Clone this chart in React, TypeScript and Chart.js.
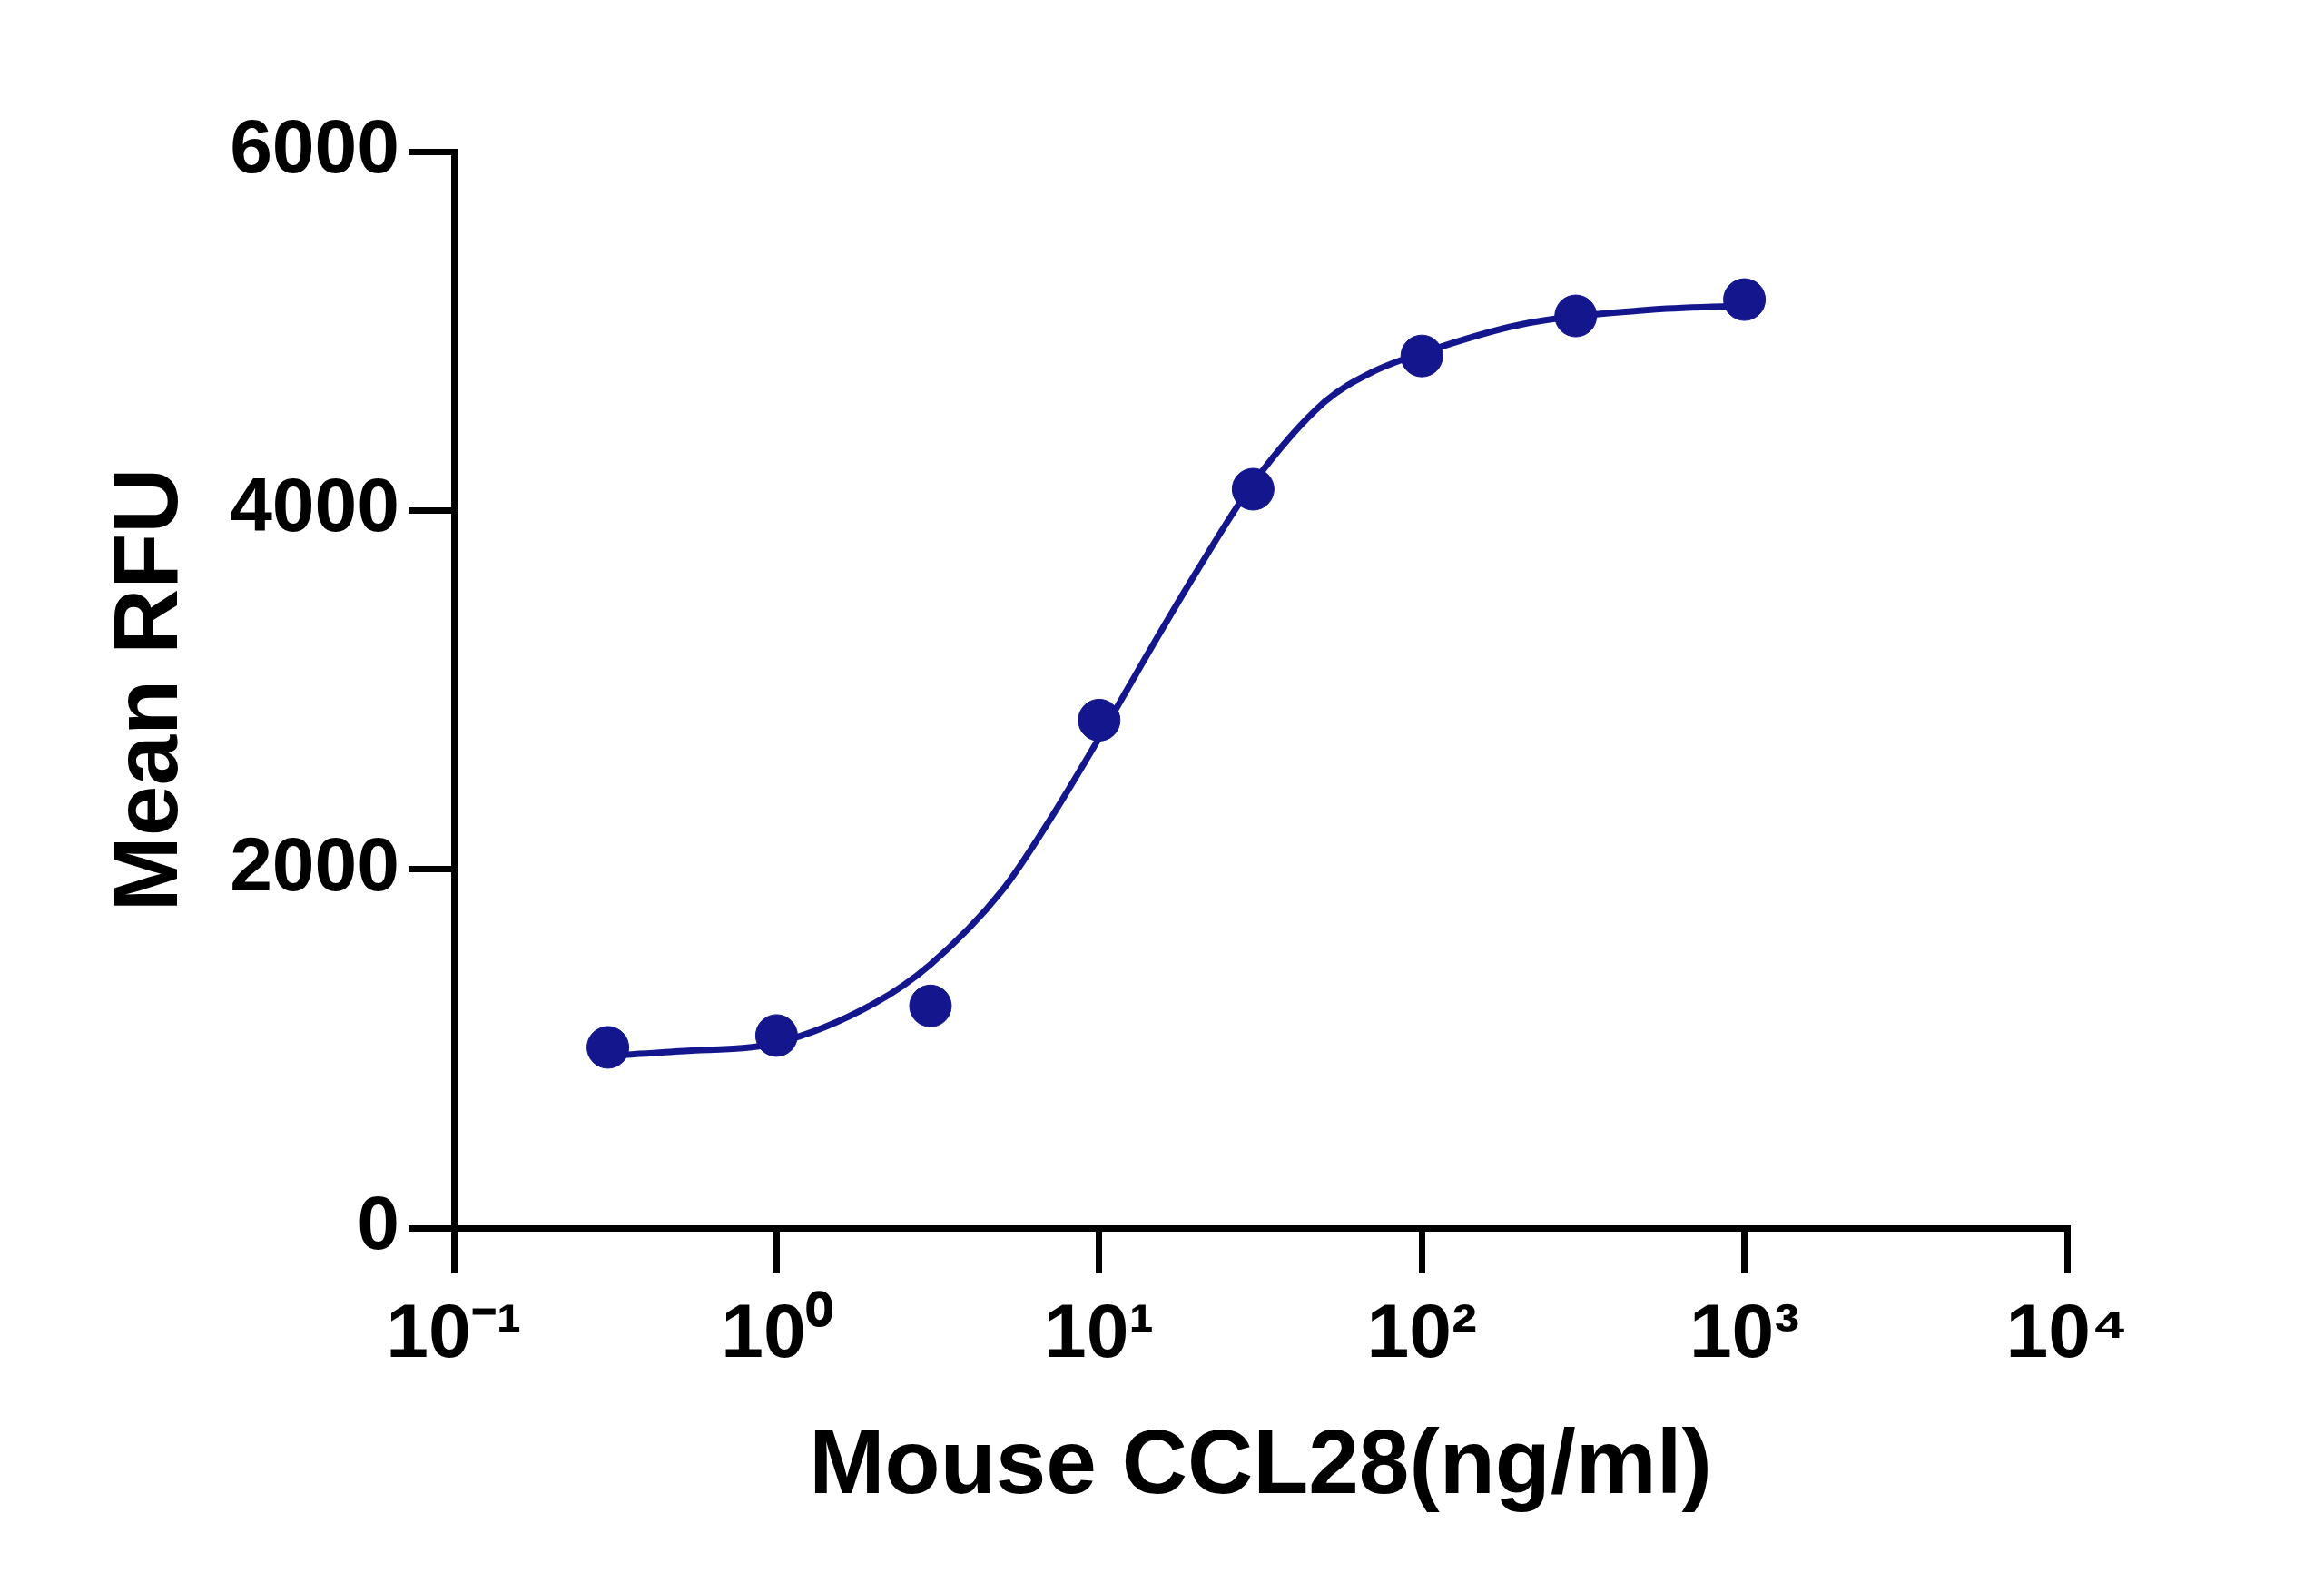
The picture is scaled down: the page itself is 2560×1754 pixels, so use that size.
import React, { useEffect, useRef } from "react";
import { Chart, registerables } from "chart.js";
Chart.register(...registerables);

const doseX = [0.3, 1, 3, 10, 30, 100, 300, 1000];
const meanRFU = [1007, 1073, 1238, 2831, 4118, 4861, 5084, 5175];
const curveX = [0.3, 0.5, 1, 2, 3, 5, 7, 10, 15, 20, 30, 50, 70, 100, 200, 500, 1000];
const curveY = [960, 985, 1032, 1250, 1469, 1881, 2270, 2732, 3280, 3656, 4151, 4605, 4770, 4877, 5034, 5117, 5141];
const xTickLabels: Record<string, string> = {
  "0.1": "10⁻¹", "1": "10⁰", "10": "10¹", "100": "10²", "1000": "10³", "10000": "10⁴",
};
const yTicks = [0, 2000, 4000, 6000];

const NAVY = "#13168c";

export default function App() {
  const ref = useRef<HTMLCanvasElement>(null);
  useEffect(() => {
    const font = { family: "Liberation Sans, Arial, sans-serif", weight: "bold" as const };
    const chart = new Chart(ref.current!, {
      type: "scatter",
      data: {
        datasets: [
          {
            type: "line",
            data: curveX.map((x, i) => ({ x, y: curveY[i] })),
            borderColor: NAVY, borderWidth: 7, pointRadius: 0, cubicInterpolationMode: "monotone", fill: false,
          },
          {
            data: doseX.map((x, i) => ({ x, y: meanRFU[i] })),
            backgroundColor: NAVY, borderColor: NAVY, pointRadius: 23,
          },
        ],
      },
      options: {
        animation: false, responsive: false,
        layout: { padding: { top: 159, right: 275, left: 95, bottom: 65 } },
        plugins: { legend: { display: false }, tooltip: { enabled: false } },
        scales: {
          x: {
            type: "logarithmic", min: 0.1, max: 10000,
            afterBuildTicks: (s: any) => { s.ticks = Object.keys(xTickLabels).map((v) => ({ value: Number(v) })); },
            afterFit: (s: any) => { s.height = 328; },
            ticks: { callback: (v: any) => xTickLabels[String(v)] ?? "", color: "#000", font: { ...font, size: 84 }, padding: 18, maxRotation: 0, autoSkip: false },
            grid: { drawOnChartArea: false, tickLength: 50, tickColor: "#000", lineWidth: 7 },
            border: { color: "#000", width: 7 },
            title: { display: true, text: "Mouse CCL28(ng/ml)", color: "#000", font: { ...font, size: 100 }, padding: { top: 0 } },
          },
          y: {
            min: 0, max: 6000,
            afterBuildTicks: (s: any) => { s.ticks = yTicks.map((v) => ({ value: v })); },
            afterFit: (s: any) => { s.width = 397; },
            ticks: { callback: (v: any) => String(v), color: "#000", font: { ...font, size: 84 }, padding: 10 },
            grid: { drawOnChartArea: false, tickLength: 50, tickColor: "#000", lineWidth: 7 },
            border: { color: "#000", width: 7 },
            title: { display: true, text: "Mean RFU", color: "#000", font: { ...font, size: 100 }, padding: { bottom: 0 } },
          },
        },
      },
    });
    return () => chart.destroy();
  }, []);
  return <canvas ref={ref} width={2544} height={1738} style={{ display: "block" }} />;
}
